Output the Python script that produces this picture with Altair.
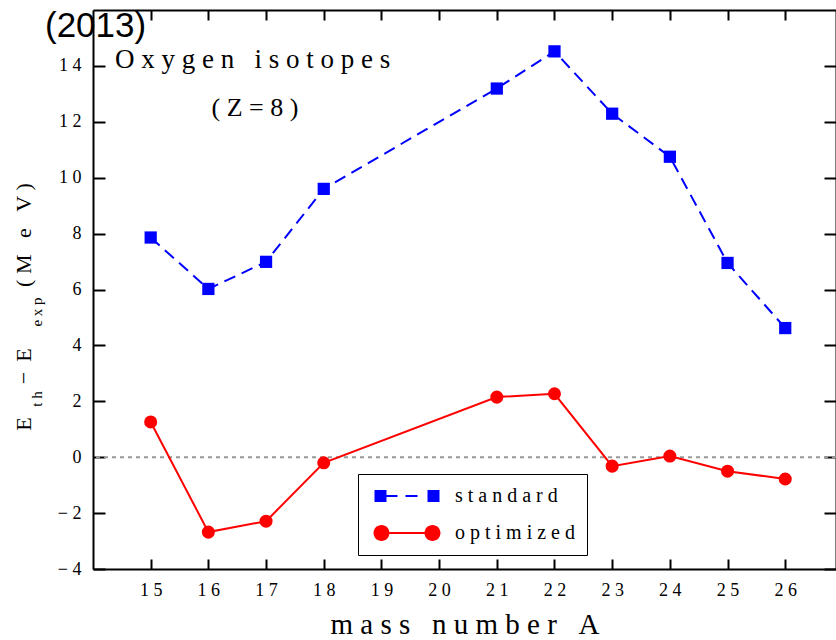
import altair as alt
import pandas as pd

# ---------------- data ----------------
mass = [15, 16, 17, 18, 21, 22, 23, 24, 25, 26]
standard = [7.86, 6.02, 6.99, 9.6, 13.19, 14.52, 12.29, 10.75, 6.95, 4.62]
optimized = [1.26, -2.68, -2.29, -0.2, 2.15, 2.27, -0.32, 0.04, -0.5, -0.78]
series_names = ["standard", "optimized"]
series_colors = ["#0000ff", "#ff0000"]
x_ticks = list(range(15, 27))
y_ticks = list(range(-4, 15, 2))

NB = "\u00a0"


def sp(s):
    """space out letters with non-breaking spaces (spaces in s become wider gaps)"""
    return NB.join(list(s)).replace(NB + " " + NB, NB * 3)


title_year = "(2013)"
title_main = sp("Oxygen isotopes")
title_sub = sp("(Z=8)")
x_title = sp("mass number A")

W, H = 743, 559
SERIF = "Liberation Serif"
SANS = "Liberation Sans"
spaced = "join(split(datum.label, ''), '" + NB + "')"

df_std = pd.DataFrame({"A": mass, "dE": standard, "series": "standard"})
df_opt = pd.DataFrame({"A": mass, "dE": optimized, "series": "optimized"})
df_all = pd.concat([df_std, df_opt], ignore_index=True)

xs = alt.Scale(domain=[14, 26.88], nice=False, zero=False)
ys = alt.Scale(domain=[-4, 16], nice=False, zero=False)

# ---------------- axes (frame built from 3 axis sets) ----------------
axA_x = alt.Axis(orient="bottom", values=x_ticks, labelExpr=spaced, labelFont=SERIF,
                 labelFontSize=18, labelColor="black", labelPadding=12, ticks=False,
                 tickSize=0, domain=True, domainColor="black", domainWidth=2, grid=False,
                 title=x_title, titleFont=SERIF, titleFontSize=29, titleFontWeight="normal",
                 titleColor="black", titlePadding=11)
axA_y = alt.Axis(orient="left", values=y_ticks, labelExpr=spaced, labelFont=SERIF,
                 labelFontSize=18, labelColor="black", labelPadding=12, ticks=False,
                 tickSize=0, domain=True, domainColor="black", domainWidth=2, grid=False,
                 title=None)
axB_x = alt.Axis(orient="top", offset=-H, values=x_ticks, labels=False, domain=False,
                 ticks=True, tickSize=10, tickWidth=2, tickColor="black", grid=False, title=None)
axB_y = alt.Axis(orient="right", offset=-W, values=y_ticks, labels=False, domain=False,
                 ticks=True, tickSize=12, tickWidth=2, tickColor="black", grid=False, title=None)
axC_x = alt.Axis(orient="bottom", offset=-H, values=x_ticks, labels=False, domain=True,
                 domainColor="black", domainWidth=2, ticks=True, tickSize=10, tickWidth=2,
                 tickColor="black", grid=False, title=None)
axC_y = alt.Axis(orient="left", offset=-W, values=y_ticks, labels=False, domain=True,
                 domainColor="black", domainWidth=2, ticks=True, tickSize=12, tickWidth=2,
                 tickColor="black", grid=False, title=None)

# ---------------- layers ----------------
zero = alt.Chart(pd.DataFrame({"y": [0]})).mark_rule(
    color="#999999", strokeDash=[4, 4], strokeWidth=2
).encode(y=alt.Y("y:Q", scale=ys, axis=None))

std_line = alt.Chart(df_std).mark_line(color=series_colors[0], strokeWidth=2,
                                       strokeDash=[12, 7]).encode(
    x=alt.X("A:Q", scale=xs, axis=axA_x),
    y=alt.Y("dE:Q", scale=ys, axis=axA_y),
)
opt_line = alt.Chart(df_opt).mark_line(color=series_colors[1], strokeWidth=2).encode(
    x=alt.X("A:Q", scale=xs, axis=axB_x),
    y=alt.Y("dE:Q", scale=ys, axis=axB_y),
)
std_pts = alt.Chart(df_std).mark_point(shape="square", filled=True, opacity=1,
                                       color=series_colors[0], size=150).encode(
    x=alt.X("A:Q", scale=xs, axis=axC_x),
    y=alt.Y("dE:Q", scale=ys, axis=axC_y),
)
opt_pts = alt.Chart(df_opt).mark_point(shape="circle", filled=True, opacity=1,
                                       color=series_colors[1], size=170).encode(
    x=alt.X("A:Q", scale=xs, axis=None),
    y=alt.Y("dE:Q", scale=ys, axis=None),
)

# legend symbols: line with a marker at each end (custom paths, 1 unit = 10 px)
path_std = ("M-3.25,-0.6H-2.05V0.6H-3.25Z M-2.05,-0.1H-0.95V0.1H-2.05Z "
            "M-0.15,-0.1H1.05V0.1H-0.15Z M2.05,-0.6H3.25V0.6H2.05Z")
path_opt = ("M-1.75,-0.1H1.75V0.1H-1.75Z "
            "M-3.35,0A0.8,0.8 0 1,0 -1.75,0A0.8,0.8 0 1,0 -3.35,0Z "
            "M1.75,0A0.8,0.8 0 1,0 3.35,0A0.8,0.8 0 1,0 1.75,0Z")

leg = alt.Legend(orient="none", legendX=265, legendY=464, title=None,
                 strokeColor="black", fillColor="white", padding=12, rowPadding=17,
                 symbolSize=400, symbolStrokeWidth=0, symbolOffset=27, symbolOpacity=1,
                 labelFont=SERIF, labelFontSize=20, labelColor="black", labelExpr=spaced,
                 labelOffset=38)
legend_layer = alt.Chart(df_all).transform_filter("false").mark_point(filled=True).encode(
    x=alt.X("A:Q", scale=xs, axis=None),
    y=alt.Y("dE:Q", scale=ys, axis=None),
    color=alt.Color("series:N", scale=alt.Scale(domain=series_names, range=series_colors),
                    legend=leg),
    shape=alt.Shape("series:N", scale=alt.Scale(domain=series_names,
                                                range=[path_std, path_opt]), legend=leg),
)

one = pd.DataFrame({"t": [0]})


def txt(text, x, y, size, font=SERIF, align="left", angle=0, baseline="alphabetic"):
    kw = dict(text=text, font=font, fontSize=size, align=align, baseline=baseline,
              color="black")
    if angle:
        kw["angle"] = angle
    return alt.Chart(one).mark_text(**kw).encode(x=alt.value(x), y=alt.value(y))


texts = [
    txt(title_year, -48, 27, 35, font=SANS),
    txt(title_main, 22, 58, 27),
    txt(title_sub, 162, 106, 26, align="center"),
    txt("E", -69, 414, 22, align="center", angle=270, baseline="middle"),
    txt(sp("th"), -56, 389, 15, align="center", angle=270, baseline="middle"),
    txt("\u2212", -69, 368, 22, align="center", angle=270, baseline="middle"),
    txt("E", -69, 345, 22, align="center", angle=270, baseline="middle"),
    txt(sp("exp"), -56, 302, 15, align="center", angle=270, baseline="middle"),
    txt(sp("(M e V)"), -69, 225, 22, align="center", angle=270, baseline="middle"),
]

chart = alt.layer(zero, std_line, opt_line, std_pts, opt_pts, legend_layer, *texts).resolve_axis(
    x="independent", y="independent"
).resolve_scale(x="shared", y="shared").properties(
    width=W, height=H,
    autosize=alt.AutoSizeParams(type="none"),
    padding={"left": 93, "top": 10, "right": 0, "bottom": 71},
).configure_view(stroke=None).configure(background="white")

chart.save("out.html", embed_options={"renderer": "svg", "actions": False})
